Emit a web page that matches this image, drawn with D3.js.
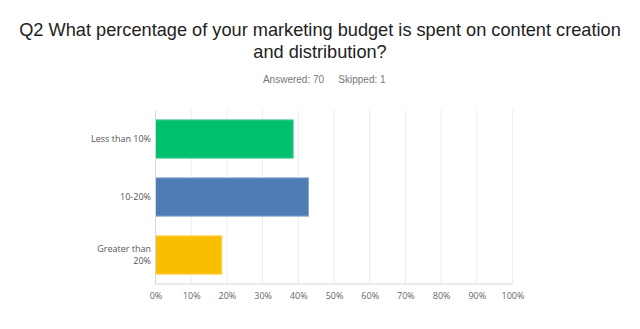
<!DOCTYPE html>
<html>
<head>
<meta charset="utf-8">
<script src="https://cdn.jsdelivr.net/npm/d3@7"></script>
<style>
  html, body { margin: 0; padding: 0; background: #fff; }
  svg { display: block; }
</style>
</head>
<body>
<svg id="chart" width="640" height="329"></svg>
<script>
// Survey question results
const titleLines = ["Q2 What percentage of your marketing budget is spent on content creation", "and distribution?"];
const answered = 70;
const skipped = 1;
const categories = [["Less than 10%"], ["10-20%"], ["Greater than", "20%"]];
const values = [38.57, 42.86, 18.57];
const colors = ["#00BF6F", "#507CB6", "#F9BE00"];
const strokes = ["#4fd196", "#8aa8d0", "#fbd24f"];
const tickValues = [0, 10, 20, 30, 40, 50, 60, 70, 80, 90, 100];

const svg = d3.select("#chart");
const margin = { left: 155.5, right: 127.5, top: 110, bottom: 45 };
const W = 640, H = 329;

const x = d3.scaleLinear().domain([0, 100]).range([margin.left, W - margin.right]);
const y = d3.scaleBand().domain(d3.range(categories.length))
  .range([margin.top, H - margin.bottom]).paddingInner(0.34).paddingOuter(0.17);

// Title
svg.append("g").selectAll("text").data(titleLines).join("text")
  .attr("x", W / 2).attr("y", (d, i) => 36 + i * 21.5)
  .attr("text-anchor", "middle")
  .attr("font-family", "Liberation Sans, Arial, sans-serif")
  .attr("font-size", 18.2).attr("fill", "#222")
  .text(d => d);

// Response counts
svg.append("text").attr("x", 293.5).attr("y", 83)
  .attr("text-anchor", "middle")
  .attr("font-family", "Liberation Sans, Arial, sans-serif")
  .attr("font-size", 10).attr("fill", "#777")
  .text("Answered: " + answered);
svg.append("text").attr("x", 362).attr("y", 83)
  .attr("text-anchor", "middle")
  .attr("font-family", "Liberation Sans, Arial, sans-serif")
  .attr("font-size", 10).attr("fill", "#777")
  .text("Skipped: " + skipped);

// Vertical gridlines
svg.append("g").selectAll("line").data(tickValues.slice(1)).join("line")
  .attr("x1", d => x(d)).attr("x2", d => x(d))
  .attr("y1", margin.top).attr("y2", H - margin.bottom)
  .attr("stroke", "#ececec").attr("stroke-width", 1);

// Bars
svg.append("g").selectAll("rect").data(values).join("rect")
  .attr("x", x(0)).attr("y", (d, i) => y(i))
  .attr("width", d => x(d) - x(0)).attr("height", y.bandwidth())
  .attr("fill", (d, i) => colors[i])
  .attr("stroke", (d, i) => strokes[i]).attr("stroke-width", 1);

// Axis lines
svg.append("line").attr("x1", x(0)).attr("x2", x(0))
  .attr("y1", margin.top).attr("y2", H - margin.bottom)
  .attr("stroke", "#d6d6d6");
svg.append("line").attr("x1", x(0)).attr("x2", x(100))
  .attr("y1", H - margin.bottom).attr("y2", H - margin.bottom)
  .attr("stroke", "#d6d6d6");

// X tick labels
const xAxis = d3.axisBottom(x).tickValues(tickValues).tickFormat(d => d + "%").tickSize(0).tickPadding(9);
const gx = svg.append("g").attr("transform", `translate(0,${H - margin.bottom})`).call(xAxis);
gx.select(".domain").remove();
gx.selectAll("text").attr("font-family", "Open Sans, sans-serif").attr("font-size", 9).attr("fill", "#666");

// Category labels
const gy = svg.append("g");
categories.forEach((lines, i) => {
  const cy = y(i) + y.bandwidth() / 2;
  const t = gy.append("text")
    .attr("text-anchor", "end")
    .attr("font-family", "Open Sans, sans-serif")
    .attr("font-size", 9).attr("fill", "#555");
  lines.forEach((ln, j) => {
    t.append("tspan").attr("x", 151)
      .attr("y", cy + 3 + (j - (lines.length - 1) / 2) * 12.5)
      .text(ln);
  });
});
</script>
</body>
</html>
